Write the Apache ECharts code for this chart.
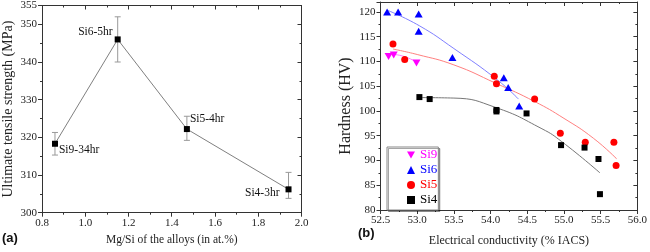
<!DOCTYPE html>
<html>
<head>
<meta charset="utf-8">
<script src="https://cdn.jsdelivr.net/npm/echarts@6/dist/echarts.min.js"></script>
<style>html,body{margin:0;padding:0;background:#fff}#c{width:650px;height:252px}</style>
</head>
<body>
<div id="c"></div>
<script>
// ---- Panel (a): UTS vs Mg/Si ----
const alloyRatio = [0.86, 1.15, 1.47, 1.94];
const uts = [318.3, 346.0, 322.2, 306.2];
const utsLow = [315.3, 340.0, 319.2, 303.8];
const utsHigh = [321.3, 352.0, 325.6, 310.7];
const utsLabels = ['Si9-34hr', 'Si6-5hr', 'Si5-4hr', 'Si4-3hr'];

// ---- Panel (b): Hardness vs conductivity ----
const seriesNames = ['Si9', 'Si6', 'Si5', 'Si4'];
const si9X = [52.61, 52.68, 52.99];
const si9Y = [111.0, 111.3, 109.7];
const si6X = [52.59, 52.74, 53.02, 53.02, 53.48, 54.18, 54.24, 54.39];
const si6Y = [120.0, 120.0, 119.6, 116.1, 110.8, 106.7, 104.75, 101.0];
const si5X = [52.67, 52.83, 54.05, 54.08, 54.60, 54.95, 55.29, 55.68, 55.71];
const si5Y = [113.5, 110.4, 107.0, 105.5, 102.4, 95.5, 93.7, 93.7, 89.0];
const si4X = [53.03, 53.17, 54.08, 54.08, 54.49, 54.96, 55.28, 55.47, 55.49];
const si4Y = [102.8, 102.4, 100.2, 99.9, 99.5, 93.1, 92.6, 90.3, 83.2];

// fitted curves
const fitSi9X = [52.6, 52.8, 53.0];
const fitSi9Y = [111.5, 111.1, 109.8];
const fitSi6X = [52.6, 53.03, 53.5, 54.09, 54.38];
const fitSi6Y = [120.3, 117.2, 112.6, 106.3, 102.4];
const fitSi5X = [52.67, 53.0, 53.5, 54.07, 54.6, 55.0, 55.4, 55.72];
const fitSi5Y = [112.5, 111.4, 109.3, 105.6, 101.9, 98.5, 94.5, 90.3];
const fitSi4X = [53.03, 53.5, 54.07, 54.7, 54.97, 55.49];
const fitSi4Y = [102.7, 102.6, 100.7, 96.4, 93.8, 87.5];

const zip = (a, b) => a.map((v, i) => [v, b[i]]);
const FONT = '"Liberation Serif", "Times New Roman", serif';
const AX = '#333';

function mainAxis(o) {
  return Object.assign({
    type: 'value',
    axisLine: { show: true, lineStyle: { color: AX, width: 1 } },
    axisTick: { show: true, length: 4, lineStyle: { color: AX } },
    minorTick: { show: true, splitNumber: 2, length: 2, lineStyle: { color: AX } },
    splitLine: { show: false },
    axisLabel: { color: '#222', fontFamily: FONT, fontSize: 11 },
    nameTextStyle: { color: '#222', fontFamily: FONT }
  }, o);
}
function mirrorAxis(o) {
  return Object.assign({
    type: 'value',
    axisLine: { show: true, onZero: false, lineStyle: { color: AX, width: 1 } },
    axisTick: { show: true, inside: true, length: 4, lineStyle: { color: AX } },
    minorTick: { show: true, splitNumber: 2, length: 2, lineStyle: { color: AX } },
    splitLine: { show: false },
    axisLabel: { show: false }
  }, o);
}

const labelPos = [
  { position: [7, 9], align: 'left', verticalAlign: 'middle' },
  { position: [-2, -4], align: 'right', verticalAlign: 'middle' },
  { position: [6, -7], align: 'left', verticalAlign: 'middle' },
  { position: [-6, 7], align: 'right', verticalAlign: 'middle' }
];

const utsData = alloyRatio.map((x, i) => ({
  value: [x, uts[i]],
  label: Object.assign({ show: true, formatter: utsLabels[i], fontFamily: FONT, fontSize: 11.5, color: '#111' }, labelPos[i])
}));

const errData = alloyRatio.map((x, i) => [x, utsLow[i], utsHigh[i]]);

const downTri = 'path://M0,0L10,0L5,9Z';
const legendColors = ['#ff00ff', '#0000ff', '#ff0000', '#000000'];

const option = {
  animation: false,
  backgroundColor: '#fff',
  grid: [
    { left: 41.5, top: 1.5, width: 260, height: 211.2 },
    { left: 380.5, top: 2, width: 259.5, height: 211 }
  ],
  xAxis: [
    mainAxis({ gridIndex: 0, min: 0.8, max: 2.0, interval: 0.2,
      axisLabel: { color: '#222', fontFamily: FONT, fontSize: 11, margin: 5, formatter: v => v.toFixed(1) },
      name: 'Mg/Si of the alloys (in at.%)', nameLocation: 'middle', nameGap: 20,
      nameTextStyle: { color: '#222', fontFamily: FONT, fontSize: 11.5 } }),
    mirrorAxis({ gridIndex: 0, position: 'top', min: 0.8, max: 2.0, interval: 0.2 }),
    mainAxis({ gridIndex: 1, min: 52.5, max: 56.0, interval: 0.5,
      axisLabel: { color: '#222', fontFamily: FONT, fontSize: 11, margin: 5, formatter: v => v.toFixed(1) },
      name: 'Electrical conductivity (% IACS)', nameLocation: 'middle', nameGap: 25,
      nameTextStyle: { color: '#222', fontFamily: FONT, fontSize: 12 } }),
    mirrorAxis({ gridIndex: 1, position: 'top', min: 52.5, max: 56.0, interval: 0.5 })
  ],
  yAxis: [
    mainAxis({ gridIndex: 0, min: 300, max: 355, interval: 10,
      axisLabel: { color: '#222', fontFamily: FONT, fontSize: 11, margin: 5 },
      name: 'Ultimate tensile strength (MPa)', nameLocation: 'middle', nameGap: 27,
      nameTextStyle: { color: '#222', fontFamily: FONT, fontSize: 14 } }),
    mirrorAxis({ gridIndex: 0, position: 'right', min: 300, max: 355, interval: 10 }),
    mainAxis({ gridIndex: 1, min: 80, max: 122, interval: 5,
      axisLabel: { color: '#222', fontFamily: FONT, fontSize: 11, margin: 5 },
      name: 'Hardness (HV)', nameLocation: 'middle', nameGap: 27,
      nameTextStyle: { color: '#222', fontFamily: FONT, fontSize: 16 } }),
    mirrorAxis({ gridIndex: 1, position: 'right', min: 80, max: 122, interval: 5 })
  ],
  legend: {
    orient: 'vertical', left: 387, top: 147,
    padding: [1, 1, 3, 20], itemWidth: 8, itemHeight: 8, itemGap: 1, itemTextGap: 12,
    borderColor: '#888', borderWidth: 1, backgroundColor: '#fff',
    shadowColor: 'rgba(0,0,0,0.35)', shadowOffsetX: 1.5, shadowOffsetY: 1.5, shadowBlur: 0,
    textStyle: { fontFamily: FONT, fontSize: 13, lineHeight: 14 },
    data: seriesNames.map((n, i) => ({
      name: n,
      textStyle: { color: legendColors[i], fontFamily: FONT, fontSize: 13, lineHeight: 14 }
    }))
  },
  graphic: [
    { type: 'text', left: 2, top: 232, style: { text: '(a)', font: 'bold 13px "Liberation Sans", Arial, sans-serif', fill: '#111' } },
    { type: 'text', left: 358, top: 227, style: { text: '(b)', font: 'bold 13px "Liberation Sans", Arial, sans-serif', fill: '#111' } }
  ],
  series: [
    {
      type: 'custom', name: 'err', xAxisIndex: 0, yAxisIndex: 0, z: 2,
      data: errData,
      renderItem: function (params, api) {
        const lo = api.coord([api.value(0), api.value(1)]);
        const hi = api.coord([api.value(0), api.value(2)]);
        const st = { stroke: '#999', lineWidth: 1 };
        return { type: 'group', children: [
          { type: 'line', shape: { x1: lo[0], y1: lo[1], x2: hi[0], y2: hi[1] }, style: st },
          { type: 'line', shape: { x1: lo[0] - 3, y1: lo[1], x2: lo[0] + 3, y2: lo[1] }, style: st },
          { type: 'line', shape: { x1: hi[0] - 3, y1: hi[1], x2: hi[0] + 3, y2: hi[1] }, style: st }
        ] };
      }
    },
    {
      type: 'line', name: 'UTS', xAxisIndex: 0, yAxisIndex: 0, z: 3,
      data: utsData, symbol: 'rect', symbolSize: 6,
      lineStyle: { color: '#808080', width: 1 },
      itemStyle: { color: '#000' }
    },
    { type: 'line', name: 'fit9', xAxisIndex: 2, yAxisIndex: 2, data: zip(fitSi9X, fitSi9Y), smooth: true, showSymbol: false, lineStyle: { color: '#ff80ff', width: 1 }, z: 1 },
    { type: 'line', name: 'fit6', xAxisIndex: 2, yAxisIndex: 2, data: zip(fitSi6X, fitSi6Y), smooth: true, showSymbol: false, lineStyle: { color: '#7f7fff', width: 1 }, z: 1 },
    { type: 'line', name: 'fit5', xAxisIndex: 2, yAxisIndex: 2, data: zip(fitSi5X, fitSi5Y), smooth: true, showSymbol: false, lineStyle: { color: '#ff8080', width: 1 }, z: 1 },
    { type: 'line', name: 'fit4', xAxisIndex: 2, yAxisIndex: 2, data: zip(fitSi4X, fitSi4Y), smooth: true, showSymbol: false, lineStyle: { color: '#777777', width: 1 }, z: 1 },
    { type: 'scatter', name: seriesNames[0], xAxisIndex: 2, yAxisIndex: 2, data: zip(si9X, si9Y), symbol: downTri, symbolSize: [8, 7], itemStyle: { color: '#ff00ff', opacity: 1 }, z: 3 },
    { type: 'scatter', name: seriesNames[1], xAxisIndex: 2, yAxisIndex: 2, data: zip(si6X, si6Y), symbol: 'triangle', symbolSize: [8, 7], itemStyle: { color: '#0000ff', opacity: 1 }, z: 3 },
    { type: 'scatter', name: seriesNames[2], xAxisIndex: 2, yAxisIndex: 2, data: zip(si5X, si5Y), symbol: 'circle', symbolSize: 7, itemStyle: { color: '#ff0000', opacity: 1 }, z: 3 },
    { type: 'scatter', name: seriesNames[3], xAxisIndex: 2, yAxisIndex: 2, data: zip(si4X, si4Y), symbol: 'rect', symbolSize: 6, itemStyle: { color: '#000000', opacity: 1 }, z: 3 }
  ]
};

const chart = echarts.init(document.getElementById('c'), null, { renderer: 'canvas' });
chart.setOption(option);
</script>
</body>
</html>
